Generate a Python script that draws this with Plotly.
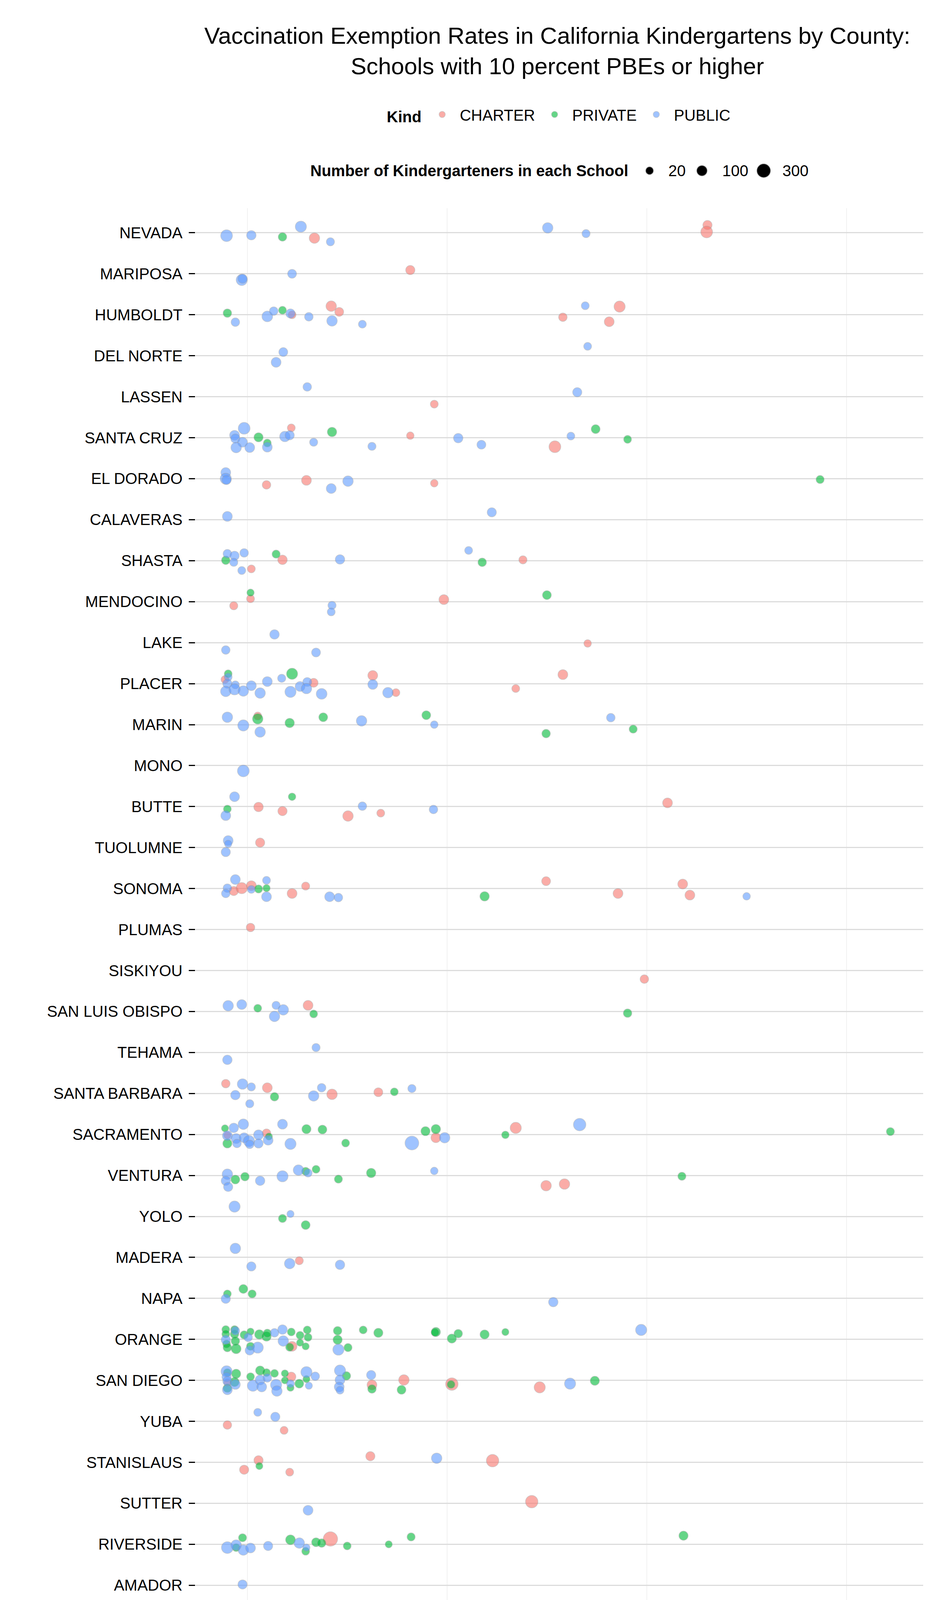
import plotly.graph_objects as go
import numpy as np

# counties, top to bottom as they appear on the y axis
counties = [
    "NEVADA", "MARIPOSA", "HUMBOLDT", "DEL NORTE", "LASSEN", "SANTA CRUZ", "EL DORADO",
    "CALAVERAS", "SHASTA", "MENDOCINO", "LAKE", "PLACER", "MARIN", "MONO", "BUTTE",
    "TUOLUMNE", "SONOMA", "PLUMAS", "SISKIYOU", "SAN LUIS OBISPO", "TEHAMA",
    "SANTA BARBARA", "SACRAMENTO", "VENTURA", "YOLO", "MADERA", "NAPA", "ORANGE",
    "SAN DIEGO", "YUBA", "STANISLAUS", "SUTTER", "RIVERSIDE", "AMADOR", "CONTRA COSTA",
    "LOS ANGELES", "MONTEREY", "KERN", "SAN MATEO", "SAN BERNARDINO", "SAN FRANCISCO",
    "SOLANO", "SANTA CLARA", "ALAMEDA", "TULARE", "FRESNO", "MERCED", "KINGS",
    "SAN JOAQUIN", "IMPERIAL",
]

# one entry per county (same order), one character / value per school
# kind codes: C = charter, P = private, U = public
kinds = [
    "UUPUCUUUCC", "CUUU", "PUUUPUCUCCUUUCCC", "UUU", "UUC",
    "UCUUUUUPPUUUUPUCUUCUPP", "UUUCCUUCP", "UU", "UUPUUUCPCUUPC", "PCCUUCP",
    "UUUC", "PCUUUUUUUUUUPUUUCUUCUUCCC", "UCPUUPPUPUPUP", "U", "UPPUCCUCCUC",
    "UUUC", "UUUUCCCUPPUCCUUPCCCCU", "C", "C", "UUPUUUCPP",
    "UU", "CUUCUUPUUCCPU", "PUUUCPUUUUUUUCPUUUPPPUPPCUPCUP", "UUUPPUUUPUPPPUCCP", "UUPP",
    "UUUCU", "UPPPU", "PPUPPPUPPPPUPPUUPPPUUUPCPPPPPPPPUPPPPPPPPPU",
    "UPUUCPUPPUPUPUUPUPUUPPCUPPUPUUUPUUUUCPCPCPCUP", "UUCC",
    "CPCCCUC", "UC", "PUUPUUUPUUPPPCPPPP", "U", "PPPPPPUPPCP",
    "PPPPUUPPCPCPPPPUUPUPUUUPPPPPPPPPUPUPUPPUPPPPPUPPPUPPPCPPPPPPPPCPPPPP",
    "UPUUCCC", "UPUCPUPP", "UCUUPP", "CPUCUCUPPPCC", "PCPPPPP",
    "UPP", "PPPPPUPPPPPP", "PCUUPPCUUPPP", "CU", "UUCCUUPP",
    "U", "U", "PCUUC", "U",
]

# percent of kindergarteners with a personal belief exemption
pbe = [
    [9.9, 13.0, 16.9, 19.2, 20.9, 22.9, 50.1, 54.9, 70.1, 70.0],
    [32.9, 18.1, 11.8, 11.9],
    [10.0, 11.0, 15.0, 15.8, 16.9, 17.9, 18.1, 20.2, 23.0, 24.0, 23.1, 26.9, 54.8, 59.1, 52.0, 57.8],
    [17.0, 16.1, 55.1],
    [20.0, 53.8, 35.9],
    [12.1, 18.0, 10.9, 11.0, 11.9, 11.1, 12.8, 13.9, 15.0, 15.0, 17.2, 17.8, 20.8, 23.1, 28.1,
     32.9, 38.9, 41.8, 51.0, 53.0, 56.1, 60.1],
    [9.8, 9.8, 9.9, 14.9, 19.9, 23.0, 25.1, 35.9, 84.2],
    [10.0, 43.1],
    [10.0, 10.9, 9.8, 10.8, 12.1, 11.8, 13.0, 16.1, 16.9, 24.1, 40.2, 41.9, 47.0],
    [12.9, 12.9, 10.8, 23.1, 23.0, 37.1, 50.0],
    [15.9, 9.8, 21.1, 55.1],
    [10.1, 9.7, 10.1, 10.0, 11.0, 9.8, 10.9, 12.0, 13.0, 14.1, 15.0, 16.8, 18.1, 17.9, 19.1,
     20.0, 20.8, 19.9, 21.8, 28.2, 28.2, 30.1, 31.1, 46.1, 52.0],
    [10.0, 13.8, 13.8, 12.0, 14.1, 17.8, 22.0, 26.8, 34.9, 35.9, 49.9, 58.0, 60.8],
    [12.0],
    [10.9, 18.1, 10.0, 9.8, 13.9, 16.9, 26.9, 25.1, 29.2, 35.8, 65.1],
    [10.1, 10.1, 9.8, 14.1],
    [11.0, 14.9, 10.0, 9.8, 10.8, 11.8, 13.0, 13.0, 13.9, 14.9, 14.9, 19.8, 18.1, 22.8, 23.9,
     42.2, 49.9, 58.9, 67.0, 67.9, 75.0],
    [12.9],
    [62.2],
    [10.1, 11.8, 13.8, 16.1, 17.0, 15.9, 20.1, 20.8, 60.1],
    [21.1, 10.0],
    [9.8, 11.9, 13.0, 15.0, 11.0, 12.8, 15.9, 21.8, 20.8, 23.1, 28.9, 30.9, 33.1],
    [9.7, 10.8, 12.0, 10.0, 10.0, 10.0, 11.1, 11.2, 12.1, 12.7, 12.8, 13.9, 13.9, 14.9, 15.2,
     15.1, 16.9, 17.9, 19.9, 21.9, 24.8, 33.1, 34.8, 36.1, 36.1, 37.2, 44.8, 46.1, 54.1, 93.0],
    [10.0, 9.8, 10.1, 11.0, 12.2, 14.1, 16.9, 18.9, 19.8, 20.1, 21.1, 23.9, 28.0, 35.9, 49.9,
     52.2, 66.9],
    [10.9, 17.9, 16.9, 19.8],
    [11.0, 13.0, 17.8, 19.0, 24.1],
    [9.8, 10.0, 12.0, 13.1, 50.8],
    [9.8, 9.8, 9.8, 9.9, 10.0, 10.9, 11.0, 10.9, 11.0, 11.1, 12.1, 12.6, 12.9, 12.9, 12.8,
     13.8, 14.0, 14.9, 15.0, 15.9, 16.9, 17.0, 18.0, 18.1, 17.8, 19.1, 19.1, 20.0, 20.1, 19.8,
     23.8, 23.8, 23.9, 25.1, 27.0, 28.9, 36.1, 36.0, 38.9, 38.1, 42.2, 44.8, 61.8],
    [9.9, 10.0, 9.9, 10.0, 10.0, 10.0, 10.0, 11.1, 10.9, 11.0, 12.9, 13.2, 14.1, 14.1, 14.3,
     14.9, 15.0, 15.9, 16.1, 16.2, 17.2, 17.2, 18.0, 17.9, 17.9, 19.0, 19.9, 19.9, 20.2, 21.0,
     24.1, 24.9, 24.1, 24.0, 24.1, 28.0, 28.1, 28.1, 32.1, 31.8, 38.1, 38.0, 49.1, 52.9, 56.0],
    [13.8, 16.0, 10.0, 17.1],
    [13.9, 14.0, 12.1, 17.8, 27.9, 36.2, 43.2],
    [20.1, 48.1],
    [11.9, 10.0, 11.1, 11.1, 12.0, 12.9, 15.1, 17.9, 19.0, 19.9, 19.8, 21.1, 21.8, 22.9, 25.0,
     30.2, 33.0, 67.1],
    [11.9],
    [18.8, 14.0, 12.8, 19.1, 12.9, 13.8, 10.0, 11.1, 12.9, 56.0, 64.0],
    [9.9, 9.8, 9.9, 10.0, 10.0, 11.0, 11.0, 11.0, 11.1, 12.0, 11.8, 11.9, 12.0, 12.9, 12.9,
     13.0, 12.9, 13.9, 14.1, 15.2, 16.0, 16.0, 17.0, 17.2, 17.9, 17.2, 18.1, 18.9, 19.0, 18.8,
     19.8, 19.9, 19.9, 18.1, 21.0, 20.9, 22.1, 23.0, 23.1, 22.8, 23.9, 21.9, 23.1, 24.9, 26.0,
     25.1, 28.9, 29.1, 31.2, 32.2, 33.2, 33.2, 33.2, 35.8, 36.1, 38.0, 38.9, 43.9, 46.0, 46.0,
     49.9, 55.0, 57.1, 58.0, 71.2, 73.1, 75.1, 80.0],
    [10.8, 10.1, 10.0, 13.1, 28.1, 29.9, 27.0],
    [9.8, 10.0, 11.1, 14.0, 14.0, 15.2, 15.0, 14.9],
    [11.9, 16.1, 17.2, 17.8, 26.0, 29.9],
    [9.8, 10.1, 9.9, 10.0, 11.0, 15.1, 16.8, 17.0, 18.1, 33.2, 35.1, 46.1],
    [9.8, 10.8, 10.9, 14.1, 13.8, 38.0, 69.1],
    [14.1, 13.9, 13.0],
    [10.0, 11.0, 10.9, 16.8, 12.0, 13.0, 15.9, 17.2, 20.0, 29.1, 50.0, 50.0],
    [10.1, 9.7, 9.8, 10.9, 12.0, 12.1, 13.1, 14.9, 16.1, 17.8, 26.9, 87.0],
    [39.8, 41.9],
    [13.1, 14.9, 14.9, 16.9, 25.0, 26.1, 14.1, 14.1],
    [9.8],
    [26.8],
    [11.1, 12.0, 18.2, 19.9, 29.2],
    [17.0],
]

# vertical jitter of each school around its county row (row units, + is downwards)
jitter = [
    [.07, .06, .10, -.15, .13, .22, -.12, .02, -.19, -.02],
    [-.09, .00, .15, .12],
    [-.04, .18, .04, -.09, -.11, -.03, .00, .05, -.21, -.07, .15, .23, -.22, -.20, .06, .17],
    [-.09, .16, -.23],
    [-.24, -.11, .18],
    [-.23, -.24, -.06, .02, .11, .24, .24, -.01, .13, .23, -.03, -.06, .11, -.14, .21,
     -.05, .01, .17, .22, -.04, -.21, .04],
    [-.15, .00, .03, .15, .04, .24, .06, .11, .02],
    [-.08, -.18],
    [-.17, -.12, -.01, .04, -.19, .24, .20, -.16, -.02, -.03, -.25, .04, -.02],
    [-.22, -.07, .10, .09, .25, -.05, -.16],
    [-.20, .18, .24, .02],
    [-.24, -.10, -.16, .00, .03, .19, .14, .18, .05, .23, -.05, -.13, -.24, .20, .07,
     -.04, -.02, .12, .25, -.20, .02, .22, .22, .12, -.22],
    [-.18, -.21, -.14, .02, .18, -.04, -.18, -.09, -.23, .00, .22, -.17, .11],
    [.13],
    [-.24, -.24, .06, .22, .01, .11, -.01, .23, .16, .07, -.09],
    [-.17, -.09, .11, -.12],
    [-.22, -.20, -.01, .12, .06, -.01, -.07, .02, .01, -.01, .20, -.06, .12, .20, .22,
     .19, -.18, .12, -.11, .16, .19],
    [-.05],
    [.21],
    [-.14, -.17, -.08, -.15, -.04, .12, -.15, .06, .04],
    [-.12, .18],
    [-.24, -.23, -.16, -.14, .04, .25, .08, -.14, .06, .02, -.03, -.04, -.12],
    [-.15, -.16, -.25, .03, .02, .22, .10, .22, .08, .16, .24, .01, .22, -.03, .05,
     .14, -.25, .23, -.13, -.12, .21, .21, -.08, -.13, .08, .08, .01, -.16, -.24, -.07],
    [-.03, .13, .28, .10, .03, .13, .02, -.13, -.10, -.06, -.15, .09, -.06, -.11, .25,
     .21, .02],
    [-.24, -.06, .05, .21],
    [-.22, .22, .15, .08, .18],
    [.01, -.11, -.23, -.11, .09],
    [-.24, -.13, .01, .11, .20, -.24, -.21, -.13, .04, .23, -.11, -.05, -.19, .17, .27,
     .20, -.12, -.07, -.15, -.16, -.24, .04, -.18, .17, .19, -.10, .08, -.23, -.05, .17,
     -.21, .01, .25, .20, -.23, -.16, -.18, -.17, -.14, -.02, -.12, -.18, -.23],
    [-.22, -.19, -.08, .02, .05, .19, .23, -.16, .04, .10, -.09, .13, -.24, -.01, .16,
     -.19, -.06, -.17, .11, .26, -.17, .00, -.09, .08, .18, .08, -.20, -.03, .13, -.10,
     -.24, -.11, -.01, .16, .24, -.13, .11, .21, -.01, .23, .09, .10, .17, .08, .01],
    [-.22, -.11, .09, .22],
    [-.05, .09, .18, .24, -.15, -.10, -.04],
    [.17, -.04],
    [-.16, .08, .02, .08, .14, .09, .04, -.11, -.03, .08, .17, -.05, -.03, -.13, .04,
     .00, -.18, -.21],
    [-.02],
    [-.25, -.14, -.10, -.03, .04, .05, .22, .18, .18, -.11, -.25],
    [-.20, -.08, .07, .16, .23, -.24, -.19, .00, .24, -.26, -.09, .02, .24, -.17, -.04,
     .18, .27, -.07, .23, .25, -.24, .07, -.19, -.08, -.03, .25, .10, -.24, .03, .17,
     -.16, .10, .29, .26, .05, .16, -.16, -.22, -.09, -.03, -.16, .18, .23, -.09, -.03,
     .21, -.13, -.12, .04, .02, -.25, -.12, .10, .16, .07, .16, -.14, -.01, -.09, .21,
     .12, .00, -.16, -.13, .15, -.19, -.20, .08],
    [-.16, -.14, .05, .17, -.11, -.16, .22],
    [-.18, -.08, .11, -.15, -.23, -.24, -.04, .15],
    [.04, .04, .02, -.04, -.02, -.05],
    [-.15, -.14, .09, .09, .20, -.21, -.11, .04, .09, .10, .16, .09],
    [.11, .15, .02, -.09, .08, -.04, .08],
    [-.05, -.05, .16],
    [-.10, -.07, .03, -.08, .19, .22, .20, .24, .12, .05, -.14, .11],
    [-.25, -.18, -.12, .04, -.05, .17, .11, .14, -.01, -.05, .05, .00],
    [-.17, .23],
    [-.24, -.20, -.17, -.12, -.19, -.09, .21, .21],
    [-.12],
    [.18],
    [-.11, .05, -.19, -.24, -.11],
    [-.18],
]

# number of kindergarteners in each school
enrolled = [
    [177, 64, 37, 140, 106, 28, 106, 28, 56, 177],
    [56, 47, 140, 56],
    [37, 37, 119, 37, 23, 56, 23, 37, 106, 47, 106, 23, 23, 140, 37, 79],
    [47, 79, 23],
    [37, 56, 23],
    [177, 23, 79, 56, 79, 106, 79, 56, 23, 79, 106, 56, 28, 64, 28,
     18, 64, 47, 177, 23, 47, 23],
    [79, 140, 56, 37, 79, 79, 106, 18, 28],
    [79, 56],
    [37, 56, 37, 28, 37, 23, 23, 28, 64, 64, 23, 37, 28],
    [15, 23, 28, 28, 23, 79, 47],
    [64, 37, 47, 18],
    [23, 23, 23, 56, 23, 106, 140, 106, 79, 106, 79, 28, 140, 140, 79,
     47, 47, 106, 119, 79, 79, 106, 23, 23, 79],
    [106, 23, 106, 140, 106, 64, 47, 106, 47, 18, 37, 37, 28],
    [177],
    [79, 18, 23, 79, 64, 56, 37, 106, 23, 37, 79],
    [79, 15, 56, 56],
    [79, 23, 37, 37, 56, 140, 79, 23, 28, 15, 79, 28, 79, 79, 37,
     64, 47, 79, 79, 79, 18],
    [37],
    [37],
    [106, 79, 23, 28, 106, 106, 79, 23, 37],
    [28, 64],
    [37, 106, 28, 79, 64, 28, 37, 37, 106, 106, 47, 23, 28],
    [13, 64, 106, 79, 13, 56, 79, 37, 79, 140, 37, 79, 56, 37, 13,
     79, 79, 140, 56, 47, 23, 318, 56, 64, 79, 106, 18, 140, 219, 28],
    [106, 56, 56, 47, 37, 64, 140, 106, 28, 28, 23, 28, 64, 18, 106,
     106, 28],
    [140, 13, 28, 47],
    [106, 56, 106, 28, 64],
    [56, 23, 47, 28, 64],
    [23, 23, 56, 23, 37, 23, 37, 37, 37, 79, 28, 37, 13, 28, 56,
     140, 64, 64, 28, 37, 64, 106, 23, 79, 28, 23, 13, 23, 23, 13,
     37, 56, 140, 28, 23, 56, 56, 23, 37, 56, 56, 13, 140],
    [140, 23, 56, 56, 13, 37, 79, 56, 56, 79, 23, 140, 56, 79, 79,
     23, 37, 23, 140, 106, 13, 13, 56, 23, 13, 47, 140, 13, 13, 37,
     140, 37, 79, 79, 23, 56, 79, 37, 106, 47, 219, 23, 140, 140, 56],
    [23, 56, 37, 23],
    [56, 13, 56, 23, 56, 106, 219],
    [79, 219],
    [28, 177, 106, 23, 106, 79, 56, 79, 106, 13, 23, 47, 37, 372, 23,
     13, 28, 56],
    [56],
    [28, 23, 13, 23, 13, 13, 106, 56, 28, 28, 18],
    [23, 56, 23, 56, 23, 37, 28, 37, 13, 23, 13, 28, 47, 28, 13,
     79, 13, 13, 23, 37, 56, 106, 47, 13, 28, 37, 37, 47, 23, 28,
     23, 23, 56, 13, 37, 13, 37, 23, 13, 28, 13, 23, 56, 56, 56,
     106, 56, 13, 23, 64, 13, 47, 28, 13, 13, 56, 23, 28, 18, 18,
     18, 28, 106, 18, 56, 18, 18, 28],
    [106, 8, 79, 106, 106, 37, 13],
    [106, 37, 47, 79, 13, 140, 13, 28],
    [79, 79, 23, 56, 37, 56],
    [79, 13, 56, 23, 79, 140, 28, 13, 28, 18, 79, 219],
    [28, 13, 79, 23, 64, 106, 28],
    [106, 13, 79],
    [37, 23, 23, 56, 28, 37, 106, 18, 18, 23, 64, 64],
    [37, 56, 79, 106, 64, 37, 140, 106, 140, 13, 13, 37],
    [18, 56],
    [47, 106, 28, 23, 18, 79, 28, 13],
    [37],
    [37],
    [23, 56, 56, 106, 28],
    [23],
]

kind_names = {"C": "CHARTER", "P": "PRIVATE", "U": "PUBLIC"}
kind_order = ["CHARTER", "PRIVATE", "PUBLIC"]
kind_colors = {"CHARTER": "#F8766D", "PRIVATE": "#00BA38", "PUBLIC": "#619CFF"}
size_breaks = [20, 100, 300]

FONT = "Liberation Sans"
W, H = 2400, 6000
M_L, M_R, M_T, M_B = 492, 46, 525, 208
PLOT_W = W - M_L - M_R
PLOT_H = H - M_T - M_B
MIN_KIDS = 8


def dot_size(n):
    # diameter in px grows with the square root of the enrolment (area scale)
    n = np.asarray(n, dtype=float)
    return 16 + 1.1 * np.sqrt(np.clip(n - MIN_KIDS, 0, None))


def px_x(px):
    return (px - M_L) / PLOT_W


def px_y(py):
    return 1 + (M_T - py) / PLOT_H


# flatten to one record per school
rows = []
for ci, name in enumerate(counties):
    for k, x, j, n in zip(kinds[ci], pbe[ci], jitter[ci], enrolled[ci], strict=True):
        rows.append((kind_names[k], ci + j, x, n))

fig = go.Figure()
for kind in kind_order:
    sel = [r for r in rows if r[0] == kind]
    fig.add_trace(go.Scatter(
        x=[r[2] for r in sel],
        y=[r[1] for r in sel],
        mode="markers",
        name=kind,
        customdata=[r[3] for r in sel],
        hovertemplate="%{x:.1f}%% PBE, %{customdata} kindergarteners<extra>" + kind + "</extra>",
        marker=dict(
            size=dot_size([r[3] for r in sel]),
            color=kind_colors[kind],
            opacity=0.6,
            line=dict(color="rgba(150,150,150,0.7)", width=1.5),
        ),
    ))

# size legend, drawn by hand so the keys can be larger than plotly's legend cap
size_key_x = [1654, 1788, 1946]
size_lab_x = [1700, 1838, 1992]
key_y = px_y(429)
shapes = []
annotations = [dict(
    text="<b>Number of Kindergarteners in each School</b>",
    xref="paper", yref="paper", x=px_x(1602), y=key_y,
    xanchor="right", yanchor="middle", showarrow=False,
    font=dict(family=FONT, size=40, color="black"),
)]
for v, kx, lx in zip(size_breaks, size_key_x, size_lab_x):
    d = float(dot_size(v))
    shapes.append(dict(
        type="circle", xref="paper", yref="paper",
        xsizemode="pixel", ysizemode="pixel",
        xanchor=px_x(kx), yanchor=key_y,
        x0=-d / 2, x1=d / 2, y0=-d / 2, y1=d / 2,
        fillcolor="black", line=dict(color="rgba(150,150,150,0.9)", width=1.5),
    ))
    annotations.append(dict(
        text=str(v), xref="paper", yref="paper", x=px_x(lx), y=key_y,
        xanchor="left", yanchor="middle", showarrow=False,
        font=dict(family=FONT, size=40, color="black"),
    ))

fig.update_layout(
    width=W, height=H,
    margin=dict(l=M_L, r=M_R, t=M_T, b=M_B),
    plot_bgcolor="white", paper_bgcolor="white",
    font=dict(family=FONT, size=40, color="black"),
    title=dict(
        text="Vaccination Exemption Rates in California Kindergartens by County:<br>"
             "Schools with 10 percent PBEs or higher",
        x=px_x(1418), xref="paper", xanchor="center",
        y=1 - 104 / H, yref="container", yanchor="middle",
        font=dict(family=FONT, size=60, color="black"),
    ),
    legend=dict(
        orientation="h", x=0.5, xanchor="center", y=px_y(285), yanchor="middle",
        title=dict(text="<b>Kind</b>", font=dict(family=FONT, size=40)),
        font=dict(family=FONT, size=40), itemsizing="trace", itemwidth=80,
        bgcolor="rgba(0,0,0,0)",
    ),
    shapes=shapes,
    annotations=annotations,
    xaxis=dict(
        range=[6.0, 97.1], tickmode="array", tickvals=[25, 50, 75],
        showgrid=False, zeroline=False, showline=False,
        ticks="outside", ticklen=18, tickwidth=3, tickcolor="black",
        ticklabelstandoff=-12,
        tickfont=dict(family=FONT, size=37, color="black"),
        minor=dict(tickmode="array", tickvals=[12.5, 37.5, 62.5, 87.5],
                   showgrid=True, gridcolor="#f1f1f1", gridwidth=2, ticks=""),
        title=dict(text="Percent with a Personal Belief Exemption from Vaccination (10% or greater shown only)",
                   font=dict(family=FONT, size=49, color="black"), standoff=12),
    ),
    yaxis=dict(
        range=[len(counties) - 0.4, -0.6], tickmode="array",
        tickvals=list(range(len(counties))), ticktext=counties,
        showgrid=True, gridcolor="#dcdcdc", gridwidth=2.5,
        zeroline=False, showline=False,
        ticks="outside", ticklen=16, tickwidth=3, tickcolor="black",
        ticklabelstandoff=8,
        tickfont=dict(family=FONT, size=40, color="black"),
    ),
)

fig.write_html("out.html")
